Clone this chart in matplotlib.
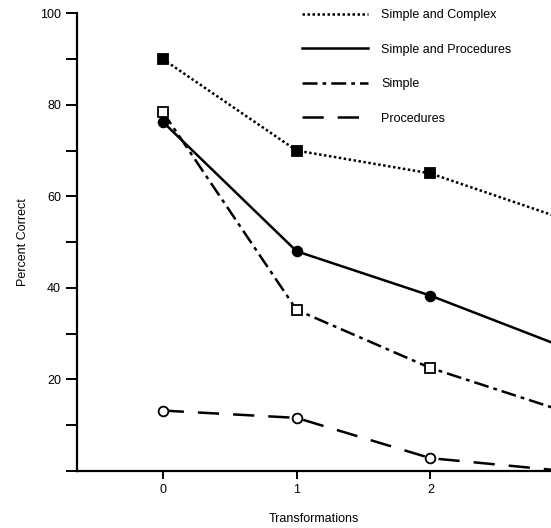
import numpy as np
import matplotlib
matplotlib.use("Agg")
import matplotlib.pyplot as plt
from matplotlib.lines import Line2D
from matplotlib.ticker import MultipleLocator, FuncFormatter

plt.rcParams['font.family'] = ['Liberation Sans', 'DejaVu Sans']

# Данные
transformations = [0, 1, 2, 3]
simple_complex = [90, 70, 65, 55]
simple_procedures = [76.3, 48, 38.3, 27]
simple = [78.5, 35.2, 22.5, 13]
procedures = [13.2, 11.6, 2.8, 0]

labels = ['Simple and Complex', 'Simple and Procedures', 'Simple', 'Procedures']
styles = [(0, (1, 1)), '-', (0, (6, 2, 1.5, 2)), (0, (8.5, 5.6))]
markers = ['s', 'o', 's', 'o']
faces = ['black', 'black', 'white', 'white']
series = [simple_complex, simple_procedures, simple, procedures]

fig = plt.figure(figsize=(5.51, 5.28), dpi=100)
ax = fig.add_axes([0.1397, 0.108, 0.8603, 0.867])

for vals, ls, m, fc, lab in zip(series, styles, markers, faces, labels):
    ax.plot(transformations, vals, color='black', linestyle=ls, linewidth=1.8,
            marker=m, markersize=7, markerfacecolor=fc, markeredgewidth=1.3, label=lab)

ax.set_xlim(-0.64, 2.9)
ax.set_ylim(0, 100)
ax.set_xticks([0, 1, 2])
ax.yaxis.set_major_locator(MultipleLocator(20))
ax.yaxis.set_minor_locator(MultipleLocator(10))
ax.yaxis.set_major_formatter(FuncFormatter(lambda v, p: '' if v == 0 else f'{v:.0f}'))

ax.spines['top'].set_visible(False)
ax.spines['right'].set_visible(False)
ax.spines['left'].set_linewidth(1.6)
ax.spines['bottom'].set_linewidth(1.6)
ax.tick_params(axis='y', which='major', direction='out', length=8, width=1.4, labelsize=9)
ax.tick_params(axis='y', which='minor', direction='out', length=8, width=1.4)
ax.tick_params(axis='x', direction='out', length=6, width=1.4, labelsize=9)

ax.set_xlabel('Transformations', fontsize=9, labelpad=12)
ax.set_ylabel('Percent Correct', fontsize=9, labelpad=8)

handles = [Line2D([], [], color='black', linestyle=ls, linewidth=1.8) for ls in styles]
fig.legend(handles, labels, loc='upper left', bbox_to_anchor=(0.528, 1.004), frameon=False,
           fontsize=9, handlelength=5.3, labelspacing=1.8, handletextpad=1.0)

fig.savefig('out.png', dpi=100)
